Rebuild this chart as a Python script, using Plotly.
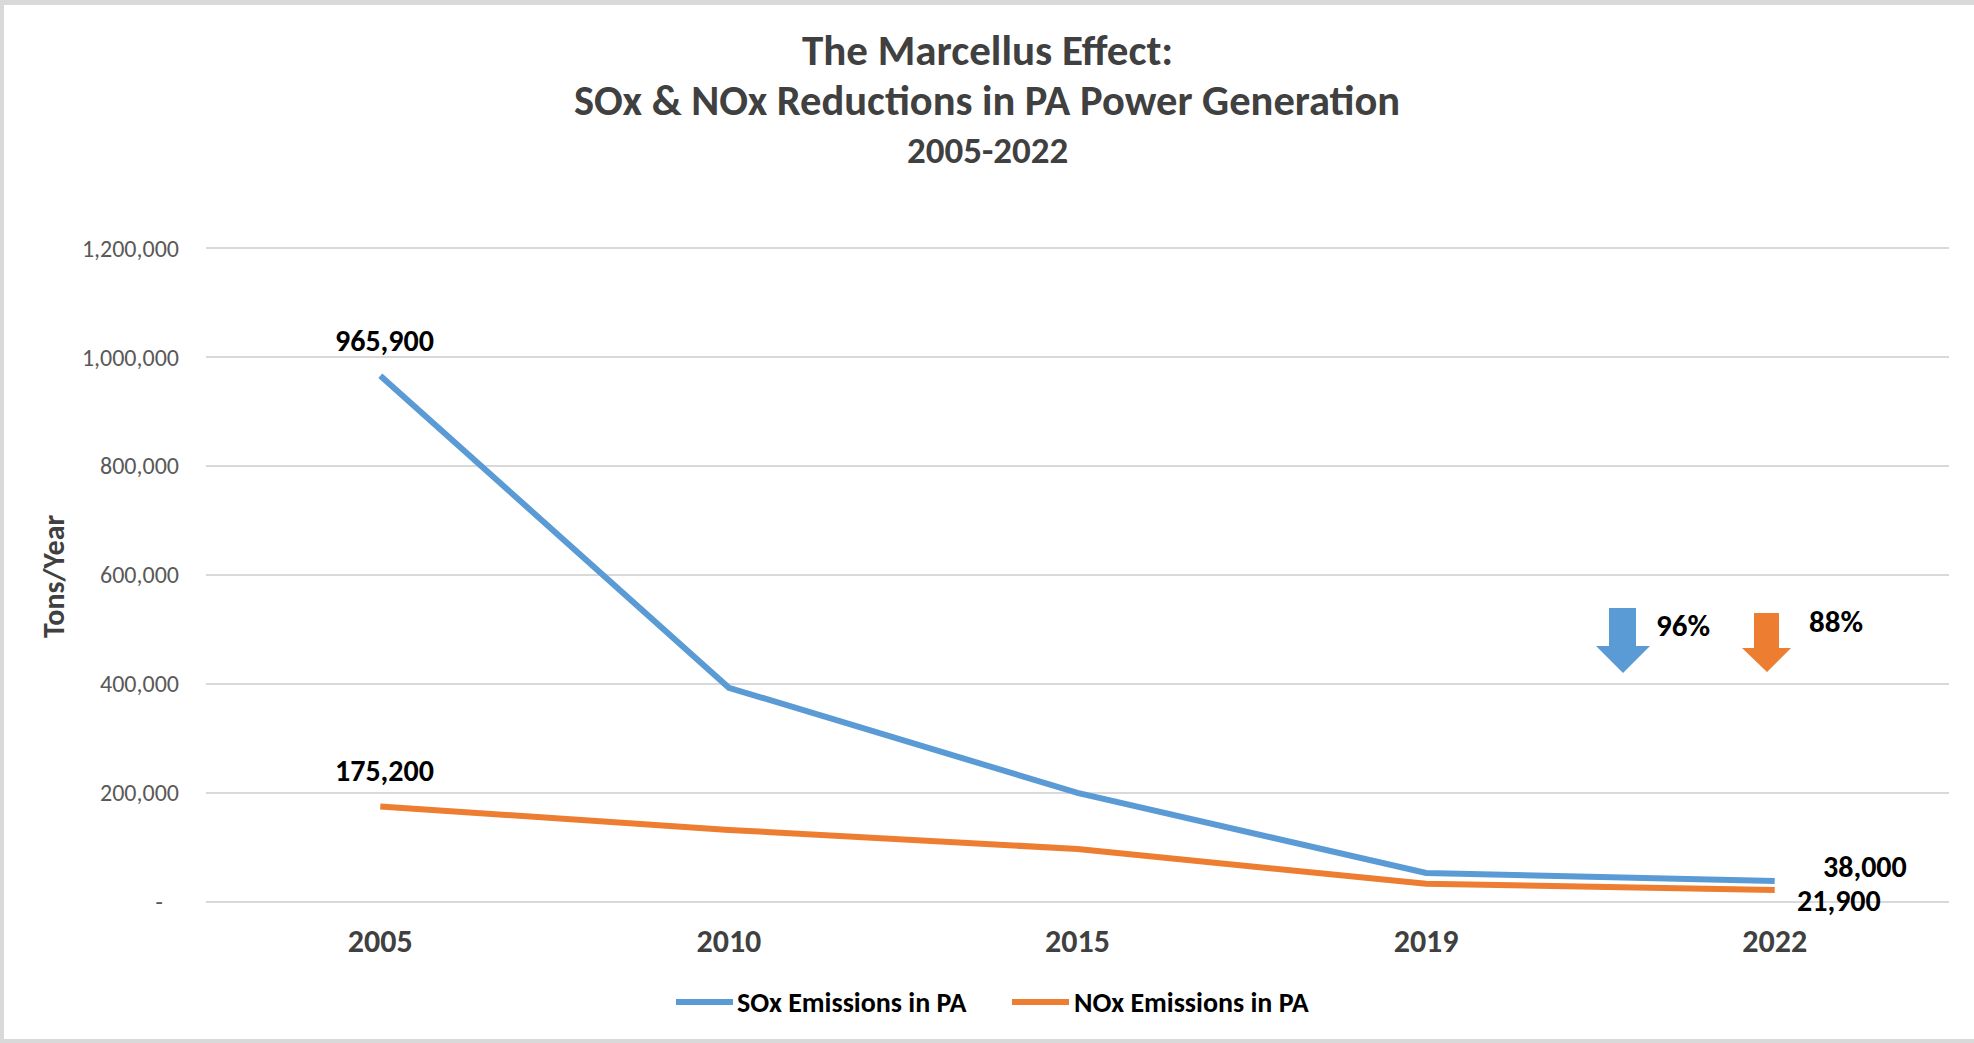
import plotly.graph_objects as go

# ---- data ----
years = ["2005", "2010", "2015", "2019", "2022"]
sox_tons = [965900, 393000, 200000, 53000, 38000]
nox_tons = [175200, 132000, 97000, 33000, 21900]
series_names = ["SOx Emissions in PA", "NOx Emissions in PA"]
y_tickvals = [0, 200000, 400000, 600000, 800000, 1000000, 1200000]
# accounting-style format: zero shows as a dash with trailing padding
y_ticktext = ["-" + "\u00a0" * 3 if v == 0 else f"{v:,}" for v in y_tickvals]

title_lines = ["The Marcellus Effect:", "SOx & NOx Reductions in PA Power Generation", "2005-2022"]

# ---- styling ----
BLUE = "#5B9BD5"
ORANGE = "#ED7D31"
GRID = "#D9D9D9"
FONT = "Carlito, Lato, 'Open Sans', sans-serif"

W, H = 1974, 1043
L, R, T, B = 206, 25, 246, 139
Y_PAD = 4000  # keeps the 0 and 1,200,000 gridlines inside the plot area


def px(x):
    """figure pixel x -> paper coordinate"""
    return (x - L) / (W - L - R)


def py(y):
    """figure pixel y (from top) -> paper coordinate"""
    return (H - B - y) / (H - T - B)


fig = go.Figure()
fig.add_trace(go.Scatter(x=years, y=sox_tons, mode="lines", name=series_names[0],
                         line=dict(color=BLUE, width=6)))
fig.add_trace(go.Scatter(x=years, y=nox_tons, mode="lines", name=series_names[1],
                         line=dict(color=ORANGE, width=6)))

annotations = []

# title block
for text, ypix, size in zip(title_lines, [50, 101, 150], [43, 42.5, 37]):
    annotations.append(dict(text=f"<b>{text}</b>", x=px(W / 2), y=py(ypix), xref="paper", yref="paper",
                            showarrow=False, xanchor="center", yanchor="middle",
                            font=dict(family=FONT, size=size, color="#404040")))

# y axis title
annotations.append(dict(text="<b>Tons/Year</b>", x=px(53), y=py(577), xref="paper", yref="paper",
                        showarrow=False, textangle=-90, xanchor="center", yanchor="middle",
                        font=dict(family=FONT, size=30, color="#404040")))

# value labels at the first and last points (category axis positions by index)
label_font = dict(family=FONT, size=30, color="#000000")
first, last = 0, len(years) - 1
value_labels = [
    dict(x=first, y=sox_tons[first], text=f"<b>{sox_tons[first]:,}</b>", yshift=35, xshift=4),
    dict(x=first, y=nox_tons[first], text=f"<b>{nox_tons[first]:,}</b>", yshift=36, xshift=4),
    dict(x=last, y=sox_tons[last], text=f"<b>{sox_tons[last]:,}</b>", yshift=15, xshift=90),
    dict(x=last, y=nox_tons[last], text=f"<b>{nox_tons[last]:,}</b>", yshift=-11, xshift=64),
]
for a in value_labels:
    a.update(xref="x", yref="y", showarrow=False, xanchor="center", yanchor="middle", font=label_font)
annotations += value_labels

# percentage reduction callouts
pct_font = dict(family=FONT, size=31, color="#000000")
sox_drop = round((sox_tons[0] - sox_tons[-1]) / sox_tons[0] * 100)
nox_drop = round((nox_tons[0] - nox_tons[-1]) / nox_tons[0] * 100)
annotations.append(dict(text=f"<b>{sox_drop}%</b>", x=px(1654), y=py(625), xref="paper", yref="paper",
                        showarrow=False, xanchor="left", yanchor="middle", font=pct_font))
annotations.append(dict(text=f"<b>{nox_drop}%</b>", x=px(1807), y=py(621), xref="paper", yref="paper",
                        showarrow=False, xanchor="left", yanchor="middle", font=pct_font))

# custom legend
legend_items = [(series_names[0], BLUE, 676, 735), (series_names[1], ORANGE, 1012, 1072)]
shapes = []
for name, color, x0, xt in legend_items:
    shapes.append(dict(type="line", xref="paper", yref="paper", x0=px(x0), x1=px(x0 + 57),
                       y0=py(1002), y1=py(1002), line=dict(color=color, width=6)))
    annotations.append(dict(text=f"<b>{name}</b>", x=px(xt), y=py(1002), xref="paper", yref="paper",
                            showarrow=False, xanchor="left", yanchor="middle",
                            font=dict(family=FONT, size=28, color="#000000")))


def arrow_path(pts):
    return "M " + " L ".join(f"{px(x)},{py(y)}" for x, y in pts) + " Z"


blue_arrow = [(1609, 608), (1636, 608), (1636, 646), (1650, 646), (1623, 673), (1596, 646), (1609, 646)]
orange_arrow = [(1754, 613), (1779, 613), (1779, 648), (1791, 648), (1767, 672), (1742, 648), (1754, 648)]
for pts, color in [(blue_arrow, BLUE), (orange_arrow, ORANGE)]:
    shapes.append(dict(type="path", xref="paper", yref="paper", path=arrow_path(pts),
                       fillcolor=color, line=dict(width=0)))

# outer frame (top, left, bottom strips)
frame = "#D9D9D9"
shapes += [
    dict(type="rect", xref="paper", yref="paper", x0=px(0), x1=px(W), y0=py(5), y1=py(0),
         fillcolor=frame, line=dict(width=0), layer="below"),
    dict(type="rect", xref="paper", yref="paper", x0=px(0), x1=px(4), y0=py(H), y1=py(0),
         fillcolor=frame, line=dict(width=0), layer="below"),
    dict(type="rect", xref="paper", yref="paper", x0=px(0), x1=px(W), y0=py(H), y1=py(H - 4),
         fillcolor=frame, line=dict(width=0), layer="below"),
]

fig.update_layout(
    width=W, height=H,
    margin=dict(l=L, r=R, t=T, b=B, pad=0),
    paper_bgcolor="white", plot_bgcolor="white",
    showlegend=False,
    annotations=annotations,
    shapes=shapes,
    xaxis=dict(type="category", range=[-0.5, 4.5], showgrid=False, zeroline=False, showline=False,
               ticks="", tickfont=dict(family=FONT, size=32, color="#404040", weight="bold"),
               ticklabelstandoff=15),
    yaxis=dict(range=[-Y_PAD, 1200000 + Y_PAD], tickvals=y_tickvals, ticktext=y_ticktext, showgrid=True,
               gridcolor=GRID, gridwidth=2, zeroline=False, showline=False, ticks="",
               tickfont=dict(family=FONT, size=24, color="#595959"), ticklabelstandoff=26),
)

fig.write_html("out.html")
